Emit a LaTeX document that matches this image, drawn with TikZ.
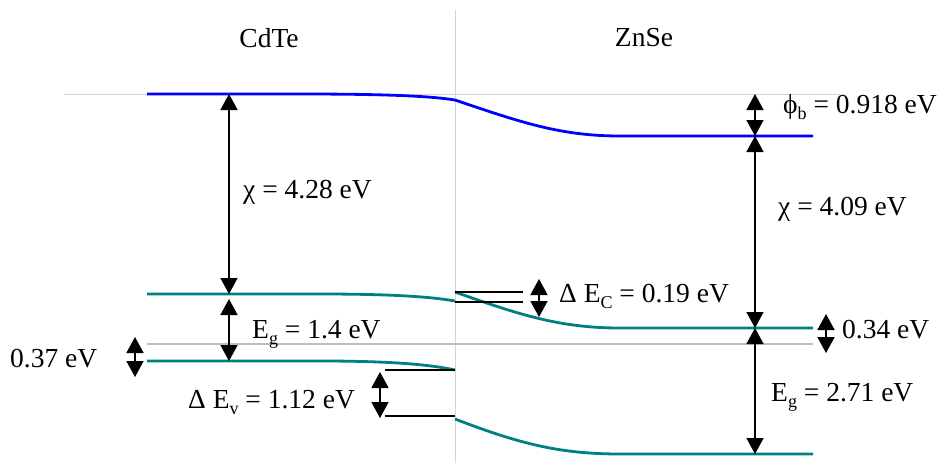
\documentclass[tikz,border=0pt]{standalone}
\usepackage{fontspec}
\setmainfont{Liberation Serif}
\usepackage{tikz}
\usepackage{xcolor}
\usetikzlibrary{arrows.meta}
\definecolor{vacBlue}{HTML}{0000FF}
\definecolor{bandTeal}{HTML}{008080}
\definecolor{fermiGray}{HTML}{BEBEBE}
\definecolor{refGray}{HTML}{D4D4D4}
\newcommand{\lowsub}[1]{\raisebox{-0.24em}{\fontsize{18}{18}\selectfont #1}}

\begin{document}
\begin{tikzpicture}[x=1pt, y=-1pt, font=\fontsize{27.5}{30}\selectfont,
    vac/.style={vacBlue, line width=2.8pt},
    band/.style={bandTeal, line width=2.8pt},
    fermi/.style={fermiGray, line width=2.8pt},
    refline/.style={refGray, line width=1pt},
    offset/.style={black, line width=1.7pt},
    dim/.style={{Triangle[width=17pt,length=16pt]}-{Triangle[width=17pt,length=16pt]}, line width=1.7pt},
    lbl/.style={anchor=base west, inner sep=0pt}]
    \useasboundingbox (0,0) rectangle (940,463);
    % reference lines
    \coordinate (vacL) at (64,94);
    \coordinate (vacR) at (840,94);
    \coordinate (divT) at (455,10);
    \coordinate (divB) at (455,463);
    \draw[refline] (vacL) -- (vacR);
    \draw[refline] (divT) -- (divB);
    % titles
    \node (cdte) at (269,38) {CdTe};
    \node (znse) at (644,38) {ZnSe};
    % fermi level
    \coordinate (efL) at (147,344);
    \coordinate (efR) at (813,344);
    \draw[fermi] (efL) -- (efR);
    % vacuum level
    \draw[vac] (147,94) -- (300,94) .. controls (385,94) and (430,96) .. (455,100);
    \draw[vac] (455,100) .. controls (520,122) and (560,136) .. (620,136) -- (813,136);
    % conduction band
    \draw[band] (147,294) -- (320,294) .. controls (395,294) and (432,297) .. (455,301);
    \draw[band] (455,292) .. controls (520,315) and (560,328) .. (620,328) -- (813,328);
    % valence band
    \draw[band] (147,361) -- (320,361) .. controls (395,361) and (432,365) .. (455,370);
    \draw[band] (455,419) .. controls (520,444) and (560,454) .. (620,454) -- (813,454);
    % band offsets
    \coordinate (ecA) at (455,292);
    \coordinate (ecB) at (455,302);
    \coordinate (evA) at (455,370);
    \coordinate (evB) at (455,416);
    \draw[offset] (ecA) -- ++(68,0);
    \draw[offset] (ecB) -- ++(68,0);
    \draw[offset] (evA) -- ++(-70,0);
    \draw[offset] (evB) -- ++(-70,0);
    % CdTe arrows
    \coordinate (chiLT) at (229,94);
    \coordinate (chiLB) at (229,294);
    \coordinate (egLT) at (229,299);
    \coordinate (egLB) at (229,361);
    \coordinate (fLT) at (135,337);
    \coordinate (fLB) at (135,377);
    \coordinate (dvT) at (380,372);
    \coordinate (dvB) at (380,418);
    \draw[dim] (chiLT) -- (chiLB);
    \draw[dim] (egLT) -- (egLB);
    \draw[dim] (fLT) -- (fLB);
    \draw[dim] (dvT) -- (dvB);
    % ZnSe arrows
    \coordinate (phiT) at (755,94);
    \coordinate (phiB) at (755,136);
    \coordinate (chiRB) at (755,328);
    \coordinate (egRB) at (755,454);
    \coordinate (dcT) at (539,279);
    \coordinate (dcB) at (539,317);
    \coordinate (fRT) at (826,314);
    \coordinate (fRB) at (826,353);
    \draw[dim] (phiT) -- (phiB);
    \draw[dim] (phiB) -- (chiRB);
    \draw[dim] (chiRB) -- (egRB);
    \draw[dim] (dcT) -- (dcB);
    \draw[dim] (fRT) -- (fRB);
    % labels
    \node[lbl] (chiL) at (243,198) {χ = 4.28 eV};
    \node[lbl] (egL) at (252,338) {E\lowsub{g} = 1.4 eV};
    \node[lbl] (fL) at (10,367) {0.37 eV};
    \node[lbl] (dvL) at (188,408) {Δ E\lowsub{v} = 1.12 eV};
    \node[lbl] (phiL) at (783,113) {ϕ\lowsub{b} = 0.918 eV};
    \node[lbl] (chiR) at (778,215) {χ = 4.09 eV};
    \node[lbl] (dcL) at (559,302) {Δ E\lowsub{C} = 0.19 eV};
    \node[lbl] (fR) at (842,338) {0.34 eV};
    \node[lbl] (egR) at (771,401) {E\lowsub{g} = 2.71 eV};
\end{tikzpicture}
\end{document}
